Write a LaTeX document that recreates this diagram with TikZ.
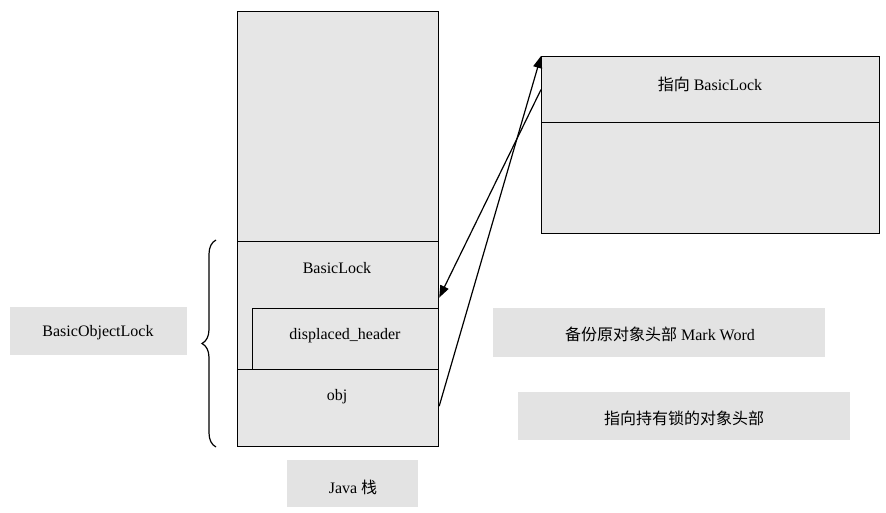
\documentclass[tikz,border=0pt]{standalone}
\usepackage{fontspec}
\setmainfont{Liberation Serif}
\newfontfamily\cjk{Noto Sans CJK SC}
\usetikzlibrary{arrows.meta,decorations.pathreplacing}
\definecolor{paper}{HTML}{E6E6E6}
\definecolor{label}{HTML}{E3E3E3}
\tikzset{
  cell/.style={draw=black, line width=1.2pt, fill=paper, inner sep=0pt, anchor=north west},
  tag/.style={fill=label, draw=none, inner sep=0pt, anchor=north west},
  txt/.style={inner sep=0pt, font=\fontsize{16}{19}\selectfont},
  arr/.style={draw=black, line width=1.2pt, -{Triangle[length=12pt,width=9pt]}},
}
\begin{document}
\begin{tikzpicture}[x=1pt,y=-1pt]
\useasboundingbox (0,0) rectangle (886,513);
% stack
\node[cell, minimum width=201pt, minimum height=230pt] (stacktop) at (237,11) {};
\node[cell, minimum width=201pt, minimum height=128pt] (lock) at (237,241) {};
\node[cell, minimum width=186pt, minimum height=61pt] (dh) at (252,308) {};
\node[cell, minimum width=201pt, minimum height=77pt] (objcell) at (237,369) {};
\node[txt] (locktxt) at (337,268) {BasicLock};
\node[txt] (dhtxt) at (345,336) {displaced\_header};
\node[txt] (objtxt) at (337,397) {obj};
% right box
\node[cell, minimum width=338pt, minimum height=66pt] (ptrtop) at (541,56) {};
\node[cell, minimum width=338pt, minimum height=111pt] (ptrbot) at (541,122) {};
\node[txt] (ptrtxt) at (710,84) {{\cjk 指向} BasicLock};
% labels
\node[tag, minimum width=177pt, minimum height=48pt] (bolbox) at (10,307) {};
\node[txt] (boltxt) at (98,333) {BasicObjectLock};
\node[tag, minimum width=332pt, minimum height=49pt] (mwbox) at (493,308) {};
\node[txt] (mwtxt) at (660,334) {{\cjk 备份原对象头部} Mark Word};
\node[tag, minimum width=332pt, minimum height=48pt] (hdbox) at (518,392) {};
\node[txt] (hdtxt) at (684,418) {\cjk 指向持有锁的对象头部};
\node[tag, minimum width=131pt, minimum height=47pt] (jbox) at (287,460) {};
\node[txt] (jtxt) at (353,487) {Java {\cjk 栈}};
% brace
\coordinate (bb) at (216,447);
\coordinate (bt) at (216,240);
\draw[line width=1.2pt, decorate, decoration={brace, amplitude=14pt}] (bb) -- (bt);
% arrows
\draw[arr] (ptrtop.west) -- ([yshift=8pt]lock.east);
\draw[arr] ([yshift=2pt]objcell.east) -- (ptrtop.north west);
\end{tikzpicture}
\end{document}
